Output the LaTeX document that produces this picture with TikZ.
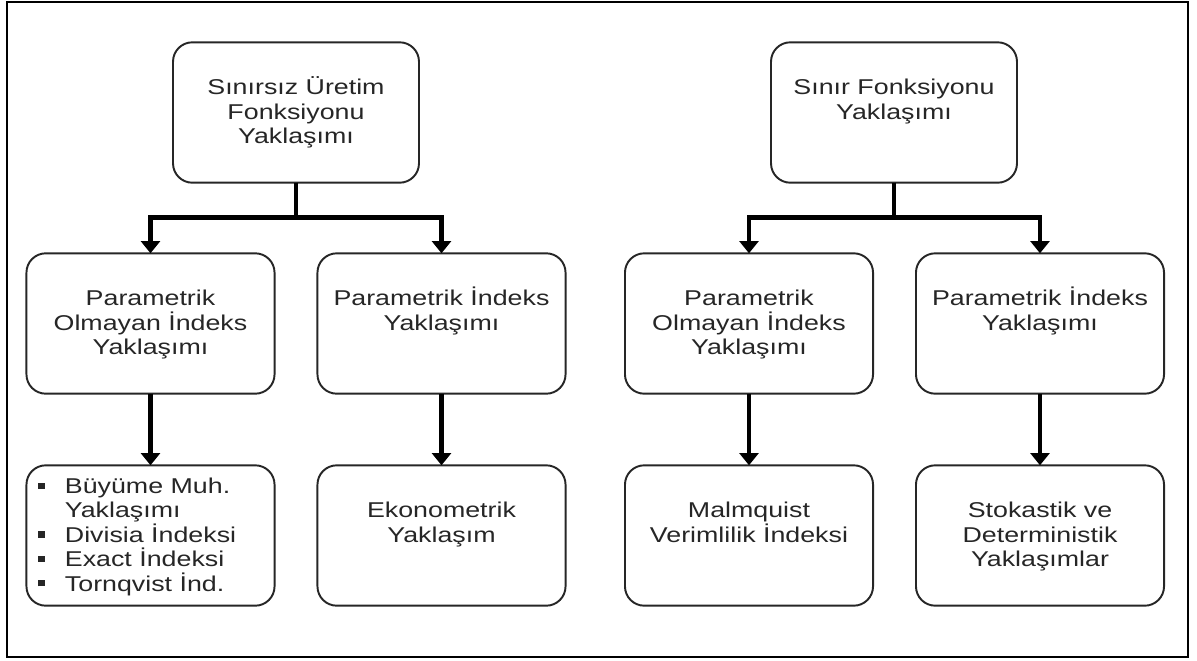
\documentclass[tikz,border=0pt]{standalone}
\usepackage{fontspec}
\newfontfamily\kutufont{Liberation Sans}[FakeStretch=1.25]
\usetikzlibrary{arrows.meta}
\newcommand{\kutu}[2]{\parbox[c][79.9pt][t]{#1}{\centering\rule{0pt}{29.8pt}#2}}
\newcommand{\madde}{\hspace*{6.8pt}\rule[2.7pt]{3.5pt}{3.5pt}\hspace*{11.6pt}}

\begin{document}
\begin{tikzpicture}[x=0.02cm,y=-0.02cm,
  kutu/.style={draw=black!85,line width=1.1pt,rounded corners=11pt,inner sep=0pt,outer sep=0pt,
    text=black!85,font=\kutufont\fontsize{12.2pt}{13.9pt}\selectfont},
  ok/.style={line width=2.8pt,-{Triangle[width=10.8pt,length=7pt]}}]
\useasboundingbox (0,0) rectangle (1197,660);
\draw[line width=1.1pt] (7,2) rectangle (1188,657);

% ust kutular
\node[kutu] (U1) at (296,112.5) {\kutu{140pt}{Sınırsız Üretim\\Fonksiyonu\\Yaklaşımı}};
\node[kutu] (U2) at (894,112.5) {\kutu{140pt}{Sınır Fonksiyonu\\Yaklaşımı}};

% orta sira
\node[kutu] (P1) at (150.5,323.5) {\kutu{141.2pt}{Parametrik\\Olmayan İndeks\\Yaklaşımı}};
\node[kutu] (P2) at (441.5,323.5) {\kutu{141.2pt}{Parametrik İndeks\\Yaklaşımı}};
\node[kutu] (P3) at (749,323.5) {\kutu{141.2pt}{Parametrik\\Olmayan İndeks\\Yaklaşımı}};
\node[kutu] (P4) at (1040,323.5) {\kutu{141.2pt}{Parametrik İndeks\\Yaklaşımı}};

% alt sira
\node[kutu] (S1) at (150.5,535.5) {\parbox[c][79.9pt][t]{141.2pt}{\raggedright\rule{0pt}{16pt}%
  \madde Büyüme Muh.\\\hspace*{21.9pt}Yaklaşımı\\\madde Divisia İndeksi\\\madde Exact İndeksi\\\madde Tornqvist İnd.}};
\node[kutu] (S2) at (441.5,535.5) {\kutu{141.2pt}{Ekonometrik\\Yaklaşım}};
\node[kutu] (S3) at (749,535.5) {\kutu{141.2pt}{Malmquist\\Verimlilik İndeksi}};
\node[kutu] (S4) at (1040,535.5) {\kutu{141.2pt}{Stokastik ve\\Deterministik\\Yaklaşımlar}};

\draw[ok] (U1.south) -- ++(0,35) -| (P1.north);
\draw[ok] (U1.south) -- ++(0,35) -| (P2.north);
\draw[ok] (U2.south) -- ++(0,35) -| (P3.north);
\draw[ok] (U2.south) -- ++(0,35) -| (P4.north);
\draw[ok] (P1.south) -- (S1.north);
\draw[ok] (P2.south) -- (S2.north);
\draw[ok] (P3.south) -- (S3.north);
\draw[ok] (P4.south) -- (S4.north);
\end{tikzpicture}
\end{document}
